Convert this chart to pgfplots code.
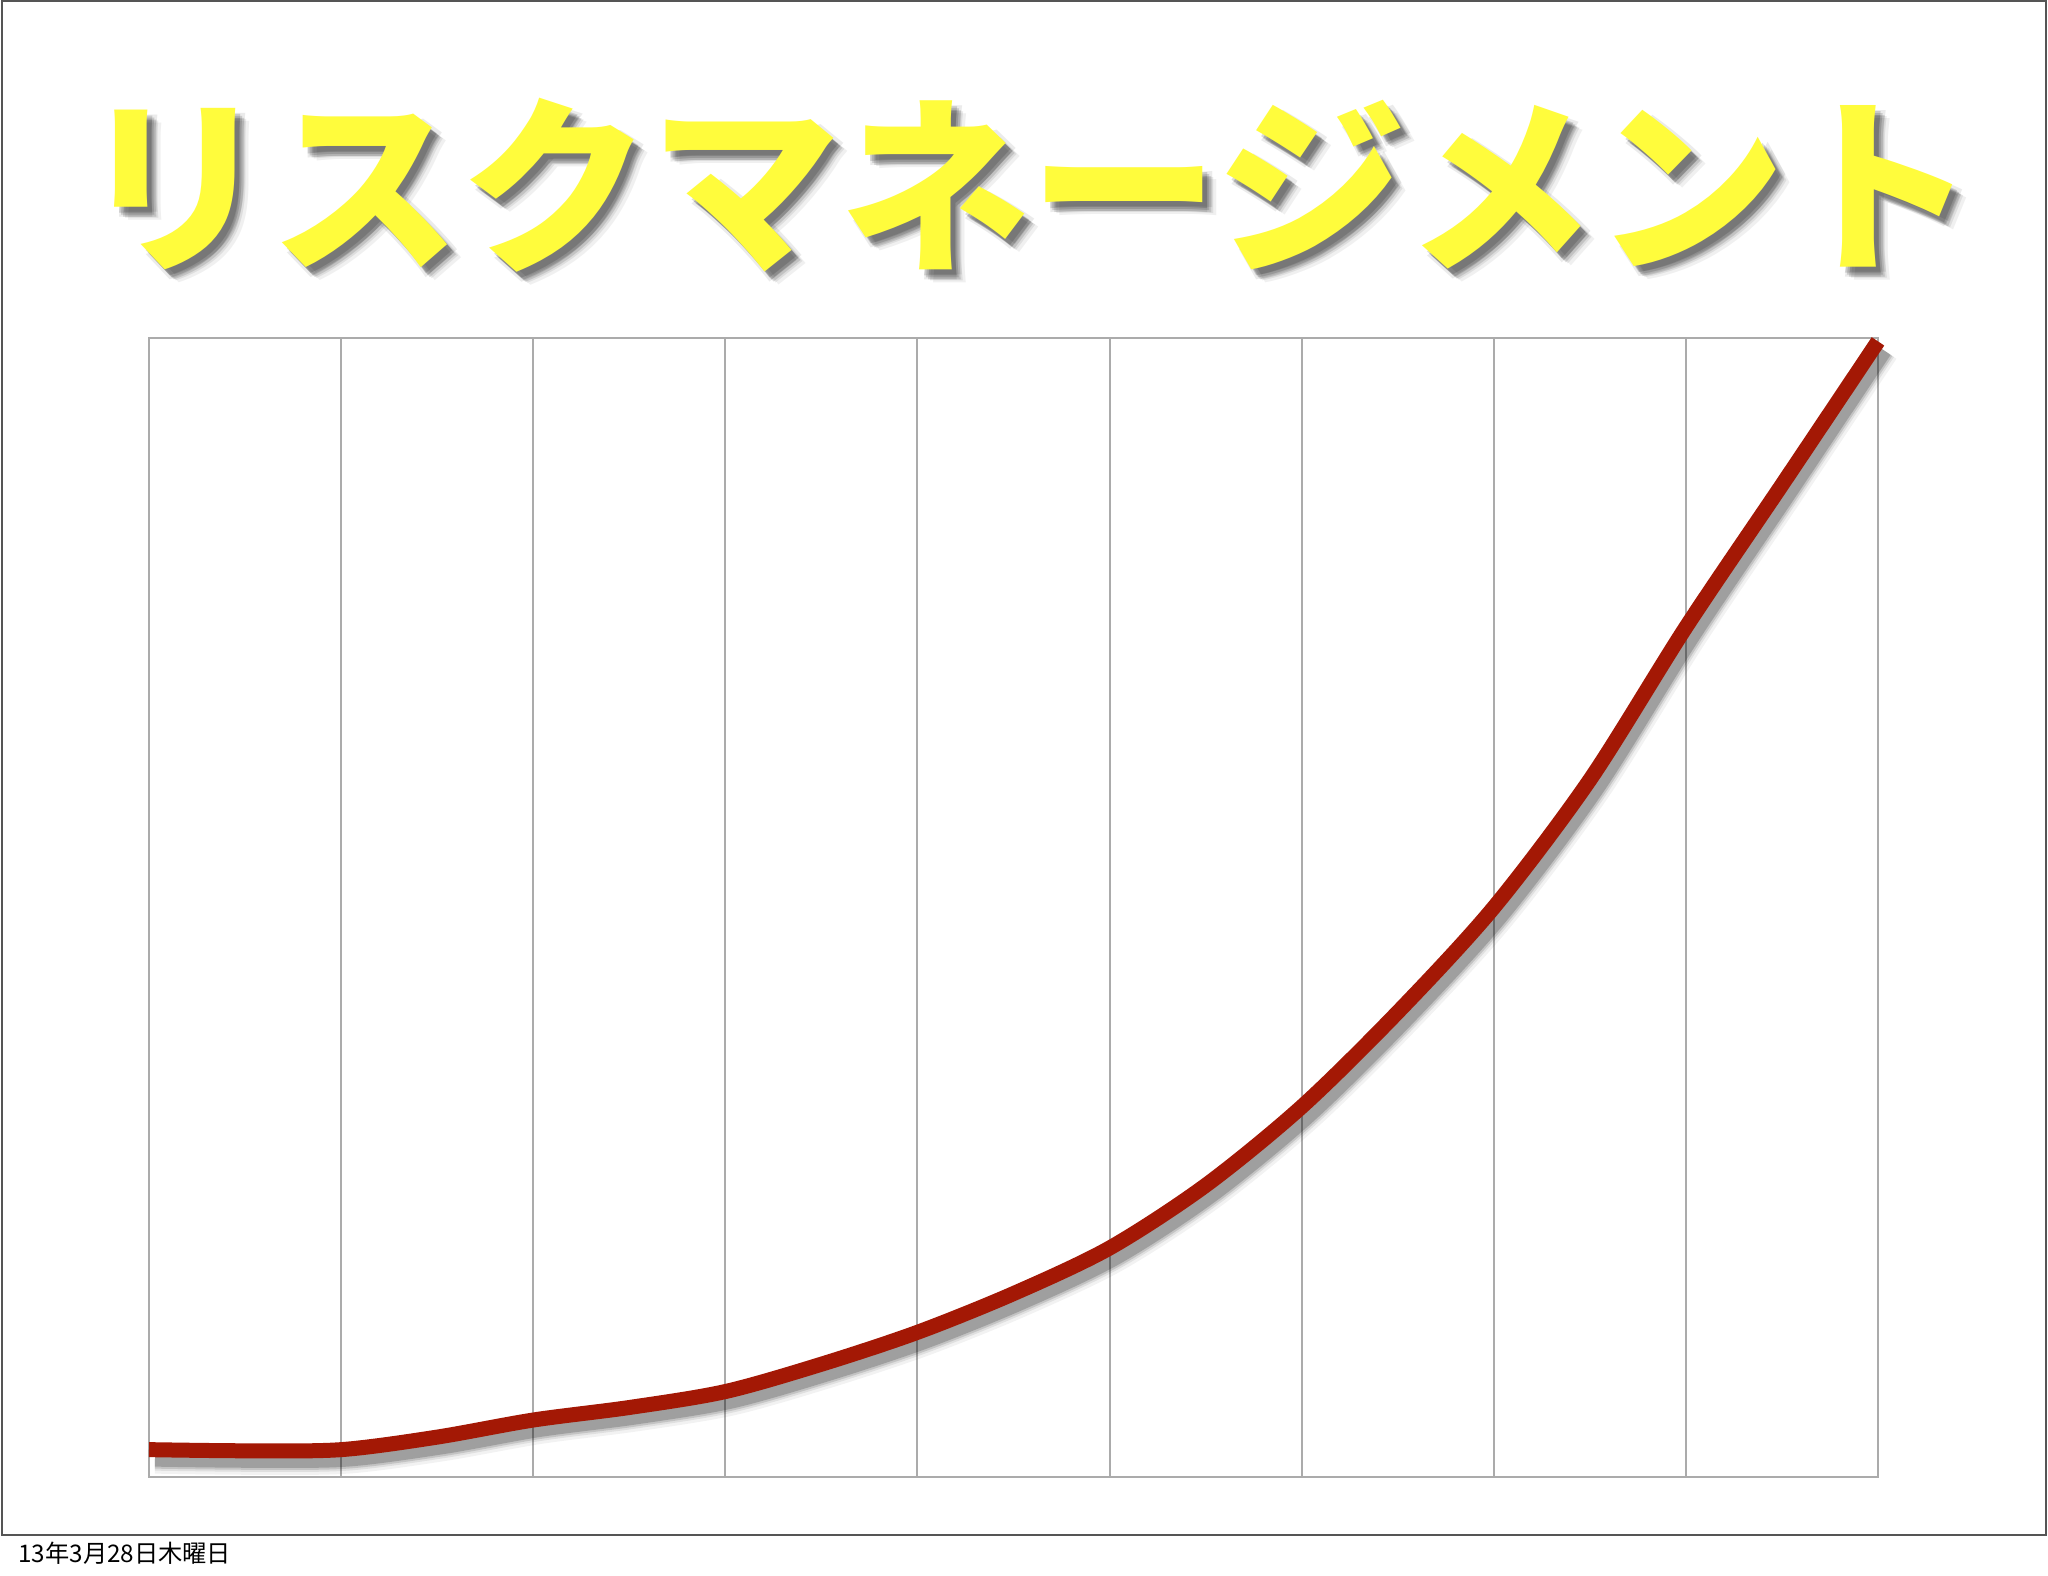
\documentclass[border=0pt]{standalone}
\usepackage{fontspec}
\usepackage{pgfplots}
\usepackage{pgfplotstable}
\pgfplotsset{compat=1.18}
\newfontfamily\jp{Noto Sans CJK JP}
\definecolor{curvered}{HTML}{A31805}
\definecolor{titleyellow}{HTML}{FFFC3C}
\definecolor{gridgray}{HTML}{ABABAB}
\definecolor{framegray}{HTML}{555555}

\pgfplotstableread{
x y
0 2.4
0.5 2.3
1 2.4
1.5 3.5
2 5.0
2.5 6.1
3 7.5
3.5 9.9
4 12.7
4.5 16.1
5 20.1
5.5 25.6
6 32.5
6.5 40.8
7 50.0
7.5 61.2
8 74.6
8.5 87.1
9 99.7
}\risk

\begin{document}
\begin{tikzpicture}
\useasboundingbox (0,0) rectangle (20.48,15.76);
\fill[white] (0,0) rectangle (20.48,15.76);
\draw[framegray, line width=0.25mm] (0.02,0.41) rectangle (20.46,15.75);

% title with a soft drop shadow
\foreach \dx/\dy/\op in {0.14/0.13/0.06, 0.11/0.11/0.08, 0.09/0.10/0.12,
                         0.07/0.08/0.14, 0.05/0.06/0.14, 0.10/0.05/0.08,
                         0.05/0.10/0.08}
  \node[text=black, opacity=\op, font=\jp\bfseries\fontsize{54}{60}\selectfont]
    at (10.28+\dx,13.91-\dy) {リスクマネージメント};
\node[text=titleyellow, font=\jp\bfseries\fontsize{54}{60}\selectfont]
  at (10.28,13.91) {リスクマネージメント};

\node[anchor=base west, font=\jp\fontsize{6.9}{8}\selectfont] at (0.06,0.13)
  {13年3月28日木曜日};

\begin{axis}[
  at={(1.49cm,0.99cm)}, anchor=south west,
  scale only axis, width=17.29cm, height=11.39cm,
  xmin=0, xmax=9, ymin=0, ymax=100,
  xtick={0,1,...,9}, xticklabels={}, ytick=\empty,
  major tick length=0pt,
  xmajorgrids, grid style={gridgray, line width=0.2mm},
  axis line style={gridgray, line width=0.2mm},
  clip=false,
  every axis plot/.append style={smooth},
]
% shadow layers
\addplot[black, opacity=0.05, line width=3.0mm, xshift=0.6mm, yshift=-0.9mm] table {\risk};
\addplot[black, opacity=0.08, line width=2.4mm, xshift=0.6mm, yshift=-0.9mm] table {\risk};
\addplot[black, opacity=0.12, line width=2.0mm, xshift=0.6mm, yshift=-0.9mm] table {\risk};
\addplot[black, opacity=0.18, line width=1.6mm, xshift=0.6mm, yshift=-0.9mm] table {\risk};
\addplot[curvered, line width=1.5mm] table {\risk};
\end{axis}
\end{tikzpicture}
\end{document}
